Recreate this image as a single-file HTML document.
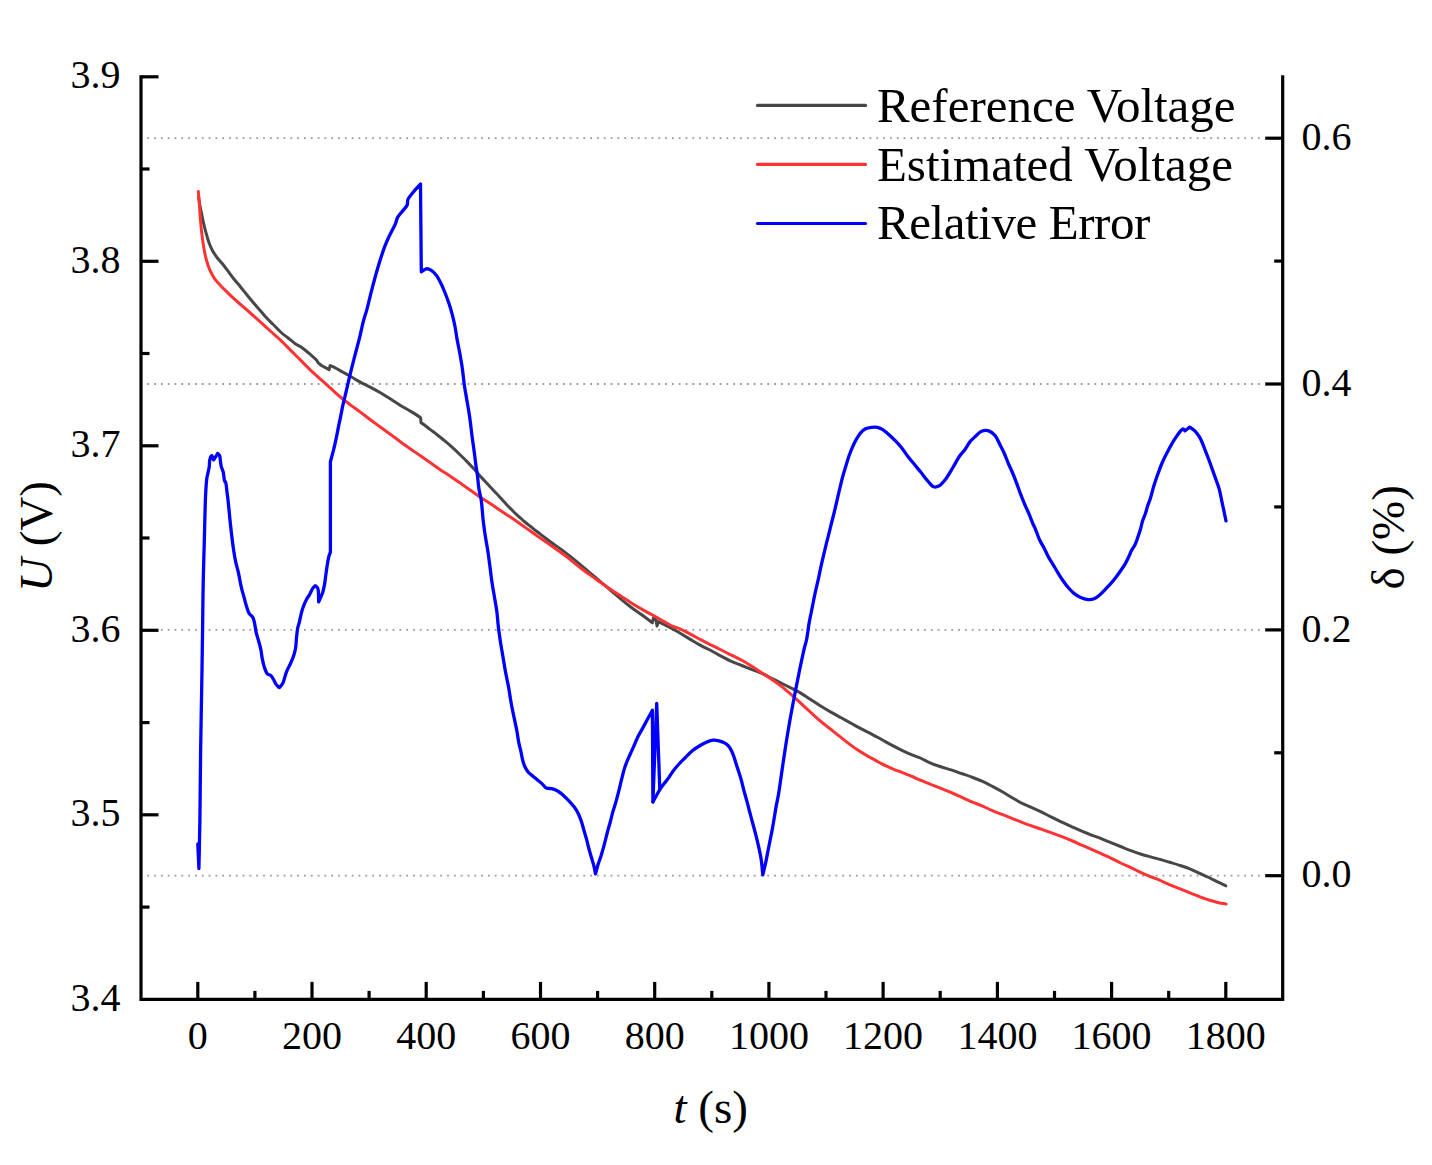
<!DOCTYPE html>
<html><head><meta charset="utf-8"><style>
html,body{margin:0;padding:0;background:#fff;}
svg{display:block;}
text{font-family:"Liberation Serif",serif;fill:#000;}
</style></head><body>
<svg width="1432" height="1165" viewBox="0 0 1432 1165">
<rect width="1432" height="1165" fill="#fff"/>
<g stroke="#9a9a9a" stroke-width="1.8" stroke-dasharray="1.8 5.0135">
<line x1="147.3" y1="875.7" x2="1264" y2="875.7"/>
<line x1="147.3" y1="629.9" x2="1264" y2="629.9"/>
<line x1="147.3" y1="384.0" x2="1264" y2="384.0"/>
<line x1="147.3" y1="138.2" x2="1264" y2="138.2"/>
</g>
<g fill="none" stroke-linejoin="round" stroke-linecap="round" stroke-width="3">
<path stroke="#474747" stroke-width="3.0" d="M198.60,197.00 C199.00,199.67 199.33,202.37 199.80,205.00 C200.26,207.57 200.84,209.90 201.40,212.60 C202.04,215.68 202.65,219.21 203.40,222.50 C204.15,225.81 205.00,229.11 205.90,232.40 C206.80,235.71 207.67,239.22 208.80,242.30 C209.83,245.12 210.96,247.70 212.30,250.20 C213.60,252.63 215.04,254.86 216.70,257.10 C218.45,259.46 220.66,261.59 222.60,264.00 C224.63,266.52 226.61,269.26 228.60,271.90 C230.58,274.53 232.49,277.29 234.50,279.80 C236.43,282.21 238.38,284.26 240.40,286.70 C242.61,289.37 244.97,292.46 247.20,295.20 C249.30,297.79 251.24,300.16 253.40,302.70 C255.69,305.39 258.41,308.35 260.60,310.90 C262.49,313.10 263.88,315.00 265.80,317.10 C267.96,319.46 270.52,321.82 273.00,324.30 C275.64,326.94 278.49,330.08 281.20,332.50 C283.62,334.65 286.00,336.30 288.40,338.20 C290.80,340.10 293.23,342.29 295.60,343.90 C297.69,345.32 299.65,346.01 301.80,347.50 C304.41,349.31 307.48,352.04 310.00,354.20 C312.24,356.12 314.74,358.13 316.20,359.80 C317.17,360.92 317.60,361.87 318.30,362.90 C319.67,363.93 320.82,364.99 322.40,366.00 C324.32,367.23 326.87,368.40 329.10,369.60 C329.43,368.23 329.77,366.87 330.10,365.50 C331.67,366.20 333.04,366.72 334.80,367.60 C337.18,368.80 340.27,370.67 343.00,372.20 C345.73,373.73 348.40,375.20 351.20,376.80 C354.16,378.49 357.15,380.39 360.30,382.10 C363.60,383.89 367.18,385.49 370.60,387.30 C374.05,389.13 377.47,390.99 380.90,393.00 C384.41,395.06 388.00,397.34 391.40,399.50 C394.66,401.57 397.64,403.70 400.90,405.70 C404.24,407.74 407.97,409.64 411.20,411.60 C414.17,413.40 418.13,415.88 419.60,417.00 C420.17,417.43 420.33,417.67 420.70,418.00 C420.80,419.57 420.90,421.13 421.00,422.70 C422.03,423.37 422.93,423.86 424.10,424.70 C425.78,425.91 427.93,427.80 430.00,429.40 C432.24,431.13 434.56,432.73 437.10,434.70 C440.12,437.05 443.96,440.10 446.90,442.60 C449.40,444.73 451.44,446.61 453.70,448.70 C456.01,450.84 458.31,453.07 460.60,455.30 C462.91,457.54 465.23,459.78 467.50,462.10 C469.80,464.45 472.03,466.79 474.30,469.30 C476.69,471.94 478.72,474.52 481.50,477.60 C485.12,481.61 491.16,487.89 494.30,491.20 C496.11,493.11 497.18,494.16 498.60,495.70 C500.05,497.26 501.46,498.91 502.90,500.50 C504.33,502.08 505.75,503.68 507.20,505.20 C508.62,506.68 510.07,508.07 511.50,509.50 C512.93,510.93 514.36,512.43 515.80,513.80 C517.19,515.12 518.59,516.32 520.00,517.60 C521.43,518.89 522.85,520.27 524.30,521.50 C525.71,522.70 527.17,523.77 528.60,524.90 C530.03,526.03 531.47,527.15 532.90,528.30 C534.34,529.45 535.59,530.53 537.20,531.80 C539.20,533.38 541.70,535.24 544.00,537.00 C546.37,538.81 548.56,540.58 551.20,542.50 C554.30,544.75 558.26,547.23 561.50,549.60 C564.50,551.80 567.05,553.85 570.00,556.20 C573.28,558.81 576.88,561.76 580.30,564.60 C583.75,567.46 587.17,570.39 590.60,573.30 C594.04,576.22 597.46,579.18 600.90,582.10 C604.33,585.01 607.77,587.89 611.20,590.80 C614.64,593.72 618.04,596.75 621.50,599.60 C624.91,602.41 628.33,605.21 631.80,607.80 C635.19,610.33 638.69,612.52 642.10,615.00 C645.56,617.52 648.97,620.20 652.40,622.80 C652.73,621.23 653.07,619.67 653.40,618.10 C654.27,618.63 655.13,619.17 656.00,619.70 C656.33,621.77 656.67,623.83 657.00,625.90 C657.53,624.50 658.07,623.10 658.60,621.70 C661.70,623.27 664.73,624.74 667.90,626.40 C671.26,628.16 674.66,629.95 678.20,632.00 C682.10,634.25 686.42,637.08 690.30,639.40 C693.86,641.52 697.13,643.54 700.60,645.40 C704.00,647.23 707.49,648.71 710.90,650.50 C714.35,652.31 717.75,654.37 721.20,656.20 C724.62,658.01 728.03,659.84 731.50,661.40 C734.90,662.93 738.37,664.13 741.80,665.50 C745.23,666.87 748.67,668.23 752.10,669.60 C755.53,670.97 759.00,672.17 762.40,673.70 C765.87,675.26 769.26,677.18 772.70,678.90 C776.13,680.61 779.57,682.29 783.00,684.00 C786.44,685.72 790.24,687.65 793.30,689.20 C795.77,690.45 797.57,691.20 800.00,692.60 C803.11,694.39 806.87,697.07 810.30,699.30 C813.73,701.53 817.14,703.85 820.60,706.00 C824.01,708.12 827.45,710.13 830.90,712.10 C834.32,714.06 837.77,715.90 841.20,717.80 C844.63,719.70 848.06,721.61 851.50,723.50 C854.93,725.38 858.35,727.29 861.80,729.10 C865.22,730.89 868.68,732.49 872.10,734.30 C875.55,736.13 878.96,738.11 882.40,740.00 C885.83,741.88 889.25,743.79 892.70,745.60 C896.12,747.39 899.55,749.16 903.00,750.80 C906.41,752.42 910.18,754.12 913.30,755.40 C915.84,756.44 917.78,756.90 920.30,758.00 C923.44,759.37 927.12,761.72 930.60,763.20 C933.99,764.64 937.45,765.68 940.90,766.80 C944.32,767.91 947.78,768.79 951.20,769.90 C954.65,771.02 958.07,772.30 961.50,773.50 C964.93,774.70 968.38,775.82 971.80,777.10 C975.25,778.39 978.70,779.67 982.10,781.20 C985.57,782.76 988.98,784.61 992.40,786.40 C995.85,788.21 999.29,790.05 1002.70,792.00 C1006.16,793.98 1009.55,796.21 1013.00,798.20 C1016.42,800.17 1020.17,802.38 1023.30,803.90 C1025.79,805.11 1027.68,805.69 1030.20,806.80 C1033.32,808.18 1037.16,809.94 1040.60,811.60 C1044.06,813.27 1047.46,815.08 1050.90,816.80 C1054.33,818.51 1057.75,820.26 1061.20,821.90 C1064.62,823.53 1068.06,825.05 1071.50,826.60 C1074.93,828.15 1078.35,829.74 1081.80,831.20 C1085.22,832.64 1088.89,834.07 1092.10,835.30 C1094.90,836.37 1097.20,837.12 1100.00,838.20 C1103.22,839.45 1106.86,841.02 1110.30,842.40 C1113.73,843.78 1117.17,845.13 1120.60,846.50 C1124.03,847.87 1127.45,849.31 1130.90,850.60 C1134.32,851.88 1137.75,853.11 1141.20,854.20 C1144.62,855.28 1148.23,856.20 1151.50,857.10 C1154.47,857.92 1157.07,858.57 1160.00,859.40 C1163.16,860.29 1166.54,861.32 1169.80,862.30 C1173.07,863.28 1176.35,864.23 1179.60,865.30 C1182.85,866.37 1186.09,867.42 1189.30,868.70 C1192.59,870.01 1195.83,871.63 1199.10,873.10 C1202.37,874.57 1205.65,875.96 1208.90,877.50 C1212.18,879.06 1215.69,880.93 1218.70,882.40 C1221.25,883.65 1223.43,884.67 1225.80,885.80"/>
<path stroke="#ff3333" stroke-width="3.0" d="M198.30,191.40 C198.67,195.83 199.06,200.14 199.40,204.70 C199.76,209.52 199.98,214.65 200.40,219.60 C200.82,224.55 201.30,229.56 201.90,234.40 C202.48,239.09 203.11,243.79 203.90,248.20 C204.63,252.30 205.37,256.27 206.40,260.00 C207.36,263.48 208.40,266.75 209.80,269.90 C211.18,273.01 212.82,276.11 214.70,278.80 C216.48,281.35 218.59,283.44 220.70,285.70 C222.88,288.04 225.29,290.34 227.60,292.60 C229.89,294.84 232.31,297.20 234.50,299.20 C236.42,300.95 237.88,302.15 240.00,304.00 C242.90,306.53 246.87,309.97 250.30,313.00 C253.74,316.04 257.17,319.12 260.60,322.20 C264.04,325.29 267.47,328.40 270.90,331.50 C274.33,334.60 277.81,337.58 281.20,340.80 C284.68,344.10 288.07,347.67 291.50,351.10 C294.93,354.53 298.37,357.97 301.80,361.40 C305.23,364.83 308.62,368.41 312.10,371.70 C315.49,374.90 318.97,377.82 322.40,380.90 C325.84,383.99 329.25,387.14 332.70,390.20 C336.12,393.24 339.86,396.62 343.00,399.20 C345.52,401.27 347.43,402.67 350.00,404.60 C353.09,406.91 356.93,409.59 360.30,412.10 C363.60,414.56 366.70,417.04 370.00,419.50 C373.37,422.01 376.87,424.50 380.30,427.00 C383.73,429.50 387.17,431.97 390.60,434.50 C394.04,437.04 397.45,439.70 400.90,442.20 C404.31,444.67 407.77,447.00 411.20,449.40 C414.63,451.80 418.23,454.32 421.50,456.60 C424.47,458.67 427.03,460.43 430.00,462.50 C433.27,464.78 436.85,467.37 440.30,469.70 C443.71,472.00 447.19,474.10 450.60,476.40 C454.05,478.73 457.47,481.20 460.90,483.60 C464.33,486.00 467.77,488.40 471.20,490.80 C474.63,493.20 478.12,495.76 481.50,498.00 C484.68,500.11 487.72,501.79 490.90,503.90 C494.28,506.14 497.75,508.77 501.20,511.10 C504.61,513.40 508.09,515.50 511.50,517.80 C514.95,520.13 518.37,522.59 521.80,525.00 C525.24,527.42 528.66,529.88 532.10,532.30 C535.53,534.71 538.97,537.09 542.40,539.50 C545.84,541.92 549.26,544.38 552.70,546.80 C556.13,549.21 559.92,551.74 563.00,554.00 C565.58,555.90 567.45,557.39 570.00,559.40 C573.11,561.86 576.84,565.02 580.30,567.70 C583.71,570.35 587.15,572.90 590.60,575.40 C594.01,577.87 597.47,580.20 600.90,582.60 C604.33,585.00 607.75,587.47 611.20,589.80 C614.61,592.10 618.07,594.27 621.50,596.50 C624.93,598.73 628.35,601.04 631.80,603.20 C635.21,605.34 638.64,607.42 642.10,609.40 C645.51,611.35 648.97,613.12 652.40,615.00 C655.84,616.89 659.27,618.80 662.70,620.70 C666.13,622.60 669.84,625.00 673.00,626.40 C675.51,627.51 677.48,627.73 680.00,628.80 C683.15,630.14 686.88,632.29 690.30,634.10 C693.74,635.92 697.15,637.89 700.60,639.70 C704.02,641.49 707.46,643.18 710.90,644.90 C714.33,646.61 717.77,648.29 721.20,650.00 C724.64,651.72 728.06,653.48 731.50,655.20 C734.93,656.91 738.40,658.44 741.80,660.30 C745.27,662.20 748.69,664.36 752.10,666.50 C755.55,668.66 758.97,670.97 762.40,673.20 C765.83,675.43 769.30,677.53 772.70,679.90 C776.17,682.32 779.53,684.82 783.00,687.60 C786.73,690.59 790.91,694.31 794.30,697.30 C797.13,699.80 799.39,701.90 802.00,704.30 C804.72,706.80 807.63,709.54 810.30,712.00 C812.78,714.29 815.05,716.46 817.50,718.60 C819.95,720.73 822.40,722.70 825.00,724.80 C827.76,727.03 830.73,729.33 833.60,731.60 C836.47,733.87 839.33,736.15 842.20,738.40 C845.06,740.65 847.92,742.96 850.80,745.10 C853.62,747.19 856.42,749.23 859.30,751.10 C862.12,752.93 865.16,754.63 867.90,756.20 C870.37,757.61 872.61,758.78 875.00,760.10 C877.44,761.45 879.70,762.85 882.40,764.20 C885.52,765.76 889.25,767.34 892.70,768.80 C896.12,770.24 899.57,771.53 903.00,772.90 C906.43,774.27 910.21,775.68 913.30,777.00 C915.87,778.10 917.73,779.10 920.30,780.20 C923.39,781.52 927.17,782.93 930.60,784.30 C934.03,785.67 937.47,787.03 940.90,788.40 C944.33,789.77 947.78,791.04 951.20,792.50 C954.65,793.97 958.06,795.65 961.50,797.20 C964.93,798.75 968.35,800.34 971.80,801.80 C975.22,803.24 978.68,804.44 982.10,805.90 C985.55,807.37 988.95,809.13 992.40,810.60 C995.82,812.06 999.27,813.33 1002.70,814.70 C1006.13,816.07 1009.56,817.45 1013.00,818.80 C1016.43,820.15 1020.19,821.62 1023.30,822.80 C1025.85,823.77 1027.74,824.48 1030.30,825.40 C1033.40,826.52 1037.17,827.80 1040.60,829.00 C1044.03,830.20 1047.47,831.37 1050.90,832.60 C1054.34,833.84 1057.77,835.09 1061.20,836.40 C1064.64,837.72 1068.08,839.06 1071.50,840.50 C1074.95,841.96 1078.37,843.57 1081.80,845.10 C1085.23,846.63 1088.89,848.27 1092.10,849.70 C1094.91,850.95 1097.19,851.95 1100.00,853.20 C1103.21,854.63 1106.89,856.18 1110.30,857.80 C1113.75,859.44 1117.15,861.36 1120.60,863.00 C1124.01,864.62 1127.48,865.99 1130.90,867.60 C1134.35,869.22 1137.74,871.12 1141.20,872.70 C1144.61,874.25 1148.23,875.66 1151.50,877.00 C1154.46,878.21 1157.08,879.16 1160.00,880.40 C1163.16,881.74 1166.52,883.41 1169.80,884.80 C1173.05,886.18 1176.34,887.40 1179.60,888.70 C1182.84,890.00 1186.06,891.30 1189.30,892.60 C1192.56,893.90 1195.82,895.26 1199.10,896.50 C1202.36,897.73 1205.61,898.96 1208.90,900.00 C1212.15,901.03 1215.66,902.03 1218.70,902.70 C1221.30,903.27 1223.57,903.50 1226.00,903.90"/>
<path stroke="#0000ff" stroke-width="3.3" d="M197.80,844.00 C198.17,852.17 198.53,860.33 198.90,868.50 C199.23,852.33 199.63,837.51 199.90,820.00 C200.22,799.31 200.28,775.97 200.60,752.30 C200.96,726.20 201.63,694.03 202.00,670.00 C202.29,651.27 202.49,635.47 202.70,620.00 C202.88,606.60 202.94,595.30 203.20,582.50 C203.47,569.06 203.95,554.79 204.30,541.20 C204.65,527.96 204.98,510.97 205.30,502.00 C205.47,497.31 205.57,495.02 205.80,491.30 C206.05,487.22 206.30,481.99 206.80,478.50 C207.15,476.05 207.68,474.28 208.10,472.30 C208.48,470.49 208.94,468.95 209.20,467.10 C209.50,465.02 209.33,462.34 209.70,460.40 C210.00,458.85 210.42,456.98 211.00,456.30 C211.30,455.95 211.67,455.97 212.00,455.80 C212.50,457.17 213.00,458.53 213.50,459.90 C214.20,458.87 214.91,457.85 215.60,456.80 C216.31,455.72 217.00,454.60 217.70,453.50 C218.30,454.10 219.05,454.41 219.50,455.30 C220.23,456.76 220.17,459.98 220.50,462.00 C220.77,463.68 220.88,465.00 221.30,466.60 C221.77,468.42 222.77,470.17 223.30,472.30 C223.94,474.87 223.90,479.52 224.60,481.00 C224.89,481.61 225.31,481.49 225.60,482.10 C226.32,483.63 226.50,488.27 226.90,491.30 C227.29,494.24 227.58,496.33 228.00,500.00 C228.72,506.32 229.70,517.69 230.60,525.80 C231.41,533.06 232.18,540.03 233.10,546.40 C233.90,551.94 234.73,557.28 235.70,561.90 C236.50,565.70 237.44,568.41 238.30,572.20 C239.34,576.81 240.28,582.87 241.40,587.60 C242.37,591.70 243.67,595.92 244.50,599.00 C245.06,601.10 245.27,602.30 245.90,604.30 C246.74,607.00 247.88,611.43 249.30,613.70 C250.29,615.29 251.86,615.81 252.70,617.20 C253.59,618.66 253.89,620.28 254.40,622.30 C255.11,625.11 255.44,629.34 256.20,632.60 C256.90,635.62 257.92,638.33 258.70,641.20 C259.48,644.06 260.32,646.92 260.90,649.80 C261.48,652.65 261.64,655.55 262.20,658.40 C262.77,661.28 263.40,664.34 264.30,667.00 C265.13,669.44 265.94,672.39 267.30,673.80 C268.28,674.82 269.82,674.67 270.80,675.50 C271.83,676.37 272.50,677.69 273.30,679.00 C274.22,680.51 274.85,682.63 275.90,684.10 C276.87,685.46 278.17,686.43 279.30,687.60 C280.47,686.17 281.85,685.05 282.80,683.30 C283.95,681.17 284.52,677.82 285.30,675.50 C285.93,673.61 286.34,672.20 287.10,670.40 C288.01,668.25 289.41,665.95 290.50,663.50 C291.69,660.81 293.02,657.63 293.90,654.90 C294.66,652.53 295.18,650.62 295.60,648.10 C296.11,645.04 296.13,641.23 296.50,637.80 C296.87,634.36 297.23,630.18 297.80,627.50 C298.17,625.74 298.67,624.85 299.10,623.20 C299.67,621.01 300.20,617.98 300.80,615.50 C301.37,613.16 301.76,611.13 302.60,608.70 C303.62,605.74 305.37,601.60 306.70,599.10 C307.62,597.37 308.48,596.49 309.40,594.90 C310.54,592.93 311.71,589.73 312.90,588.10 C313.69,587.02 314.50,586.50 315.30,585.70 C316.10,586.50 317.11,586.81 317.70,588.10 C318.89,590.69 318.37,597.23 318.70,601.80 C319.97,598.83 321.52,595.86 322.50,592.90 C323.42,590.12 323.95,587.53 324.50,584.60 C325.11,581.37 325.37,577.98 325.90,574.30 C326.51,570.06 327.31,564.13 328.00,560.60 C328.44,558.34 328.82,556.60 329.30,555.10 C329.64,554.03 330.03,553.30 330.40,552.40 C330.40,522.20 330.40,492.00 330.40,461.80 C331.43,457.93 332.51,454.25 333.50,450.20 C334.58,445.79 335.67,440.73 336.60,436.30 C337.45,432.26 338.12,428.56 338.90,424.70 C339.68,420.86 340.61,416.66 341.30,413.20 C341.87,410.35 342.23,407.98 342.80,405.40 C343.37,402.82 343.94,400.86 344.70,397.70 C345.91,392.63 347.70,384.56 349.30,377.90 C350.93,371.10 352.66,364.07 354.40,357.30 C356.10,350.68 358.06,343.94 359.60,337.70 C360.99,332.06 362.01,326.41 363.30,321.50 C364.39,317.35 365.52,314.41 366.70,310.10 C368.22,304.54 369.87,297.18 371.50,290.90 C373.07,284.82 374.72,278.56 376.30,273.00 C377.68,268.12 378.98,263.74 380.40,259.30 C381.75,255.05 383.21,250.59 384.60,246.90 C385.74,243.86 386.82,241.30 388.00,238.70 C389.10,236.28 390.21,234.20 391.40,231.80 C392.70,229.18 394.43,226.18 395.50,223.60 C396.41,221.42 396.54,219.38 397.60,217.40 C398.76,215.23 400.80,213.27 402.40,211.20 C404.00,209.13 406.32,207.13 407.20,205.00 C407.94,203.21 407.15,201.38 407.90,199.50 C408.87,197.07 411.39,194.49 413.40,192.00 C415.56,189.33 418.13,186.67 420.50,184.00 C420.77,213.27 421.03,242.53 421.30,271.80 C422.93,270.80 424.50,269.03 426.20,268.80 C427.84,268.58 429.70,269.35 431.30,270.30 C433.18,271.41 434.98,273.51 436.50,275.50 C438.11,277.61 439.30,280.11 440.60,282.70 C442.04,285.57 443.37,288.73 444.70,292.00 C446.15,295.56 447.66,299.60 448.90,303.30 C450.07,306.79 451.02,309.92 452.00,313.60 C453.11,317.76 454.24,322.61 455.10,327.00 C455.92,331.20 456.35,335.19 457.10,339.40 C457.88,343.79 458.86,348.17 459.70,352.80 C460.60,357.75 461.53,362.91 462.30,368.20 C463.11,373.79 463.59,379.91 464.40,385.50 C465.17,390.79 466.13,395.76 467.00,400.90 C467.87,406.06 468.81,410.99 469.60,416.40 C470.46,422.31 471.21,429.71 471.90,435.00 C472.41,438.94 472.83,441.87 473.30,445.30 C473.77,448.73 474.25,452.17 474.70,455.60 C475.15,459.03 475.53,462.58 476.00,465.90 C476.44,469.03 476.96,471.65 477.40,475.00 C477.94,479.12 478.22,484.46 478.90,488.80 C479.52,492.74 480.55,495.68 481.20,500.00 C482.08,505.81 482.46,514.23 483.20,520.60 C483.84,526.14 484.52,530.95 485.30,536.10 C486.08,541.25 487.12,546.35 487.90,551.50 C488.68,556.65 489.32,561.83 490.00,567.00 C490.68,572.17 491.23,577.35 492.00,582.50 C492.77,587.65 493.77,592.88 494.60,597.90 C495.40,602.70 496.30,607.34 496.90,612.00 C497.49,616.54 497.66,620.86 498.20,625.50 C498.78,630.47 499.52,635.76 500.30,640.90 C501.09,646.06 502.03,651.23 502.90,656.40 C503.77,661.57 504.55,666.75 505.50,671.90 C506.45,677.05 507.67,682.15 508.60,687.30 C509.53,692.45 510.17,697.65 511.10,702.80 C512.03,707.95 513.18,713.25 514.20,718.20 C515.15,722.82 516.20,727.29 517.00,731.60 C517.74,735.60 518.19,739.74 518.90,743.20 C519.48,746.04 520.19,748.21 520.80,750.90 C521.46,753.85 521.97,757.44 522.70,760.20 C523.30,762.47 523.78,764.31 524.70,766.30 C525.68,768.42 527.00,770.77 528.50,772.50 C529.87,774.08 531.64,775.11 533.20,776.40 C534.74,777.68 536.27,778.92 537.80,780.20 C539.34,781.49 540.96,782.77 542.40,784.10 C543.78,785.37 544.74,787.23 546.30,788.00 C547.85,788.76 549.99,788.30 551.70,788.70 C553.32,789.08 554.80,789.56 556.30,790.30 C557.91,791.10 559.54,792.27 561.00,793.40 C562.43,794.51 563.69,795.77 565.00,797.00 C566.32,798.24 567.53,799.35 568.90,800.80 C570.59,802.59 572.73,804.87 574.30,807.00 C575.77,809.01 576.98,810.97 578.10,813.20 C579.30,815.58 580.26,818.19 581.20,820.90 C582.21,823.83 583.00,827.11 583.90,830.20 C584.80,833.28 585.77,836.32 586.60,839.40 C587.43,842.48 588.07,845.61 588.90,848.70 C589.74,851.81 590.73,854.98 591.60,858.00 C592.43,860.87 593.34,863.68 594.00,866.40 C594.62,868.93 595.00,871.33 595.50,873.80 C596.40,870.57 597.22,867.28 598.20,864.10 C599.16,860.98 600.30,858.10 601.30,854.90 C602.37,851.46 603.40,847.83 604.40,844.10 C605.47,840.12 606.49,835.46 607.50,831.70 C608.35,828.54 609.16,826.10 610.00,823.00 C610.96,819.46 611.87,815.26 612.90,811.60 C613.87,808.14 615.01,805.05 616.00,801.60 C617.05,797.94 618.04,794.03 619.00,790.20 C619.97,786.33 620.81,782.38 621.80,778.50 C622.78,774.64 623.73,770.52 624.90,767.00 C625.93,763.89 627.12,761.17 628.30,758.40 C629.43,755.75 630.65,753.27 631.80,750.70 C632.95,748.14 634.15,745.42 635.20,743.00 C636.13,740.85 636.81,738.90 637.80,736.90 C638.81,734.86 639.92,733.21 641.20,730.90 C642.93,727.77 645.27,723.35 647.20,719.80 C648.99,716.51 650.67,713.47 652.40,710.30 C652.57,740.83 652.73,771.37 652.90,801.90 C654.17,769.07 655.43,736.23 656.70,703.40 C657.73,732.10 658.77,760.80 659.80,789.50 C661.20,787.60 662.59,785.67 664.00,783.80 C665.39,781.97 666.79,780.36 668.20,778.40 C669.79,776.20 671.24,773.55 673.00,771.20 C674.83,768.75 676.95,766.25 679.00,764.00 C680.95,761.86 682.90,760.09 685.00,758.00 C687.31,755.71 689.65,752.96 692.30,750.80 C694.98,748.62 698.32,746.55 701.00,745.00 C703.14,743.76 704.96,742.81 707.00,742.00 C708.97,741.22 710.98,740.39 713.00,740.20 C714.98,740.01 717.03,740.32 719.00,740.80 C721.04,741.30 723.32,742.20 725.00,743.20 C726.43,744.05 727.54,744.98 728.60,746.20 C729.77,747.54 730.72,749.27 731.60,751.00 C732.54,752.85 733.24,754.85 734.00,757.00 C734.85,759.41 735.58,762.26 736.40,764.80 C737.19,767.25 738.01,769.55 738.80,772.00 C739.62,774.54 740.44,777.08 741.20,779.80 C742.02,782.73 742.63,785.70 743.50,789.00 C744.52,792.88 745.90,797.48 747.00,801.60 C748.06,805.54 748.98,809.34 750.00,813.20 C751.02,817.04 752.07,820.86 753.10,824.70 C754.14,828.56 755.23,832.43 756.20,836.30 C757.16,840.16 758.07,844.03 758.90,847.90 C759.73,851.76 760.57,855.34 761.20,859.50 C761.92,864.25 762.27,869.77 762.80,874.90 C763.70,871.07 764.67,867.25 765.50,863.40 C766.33,859.55 767.03,855.67 767.80,851.80 C768.57,847.93 769.33,844.07 770.10,840.20 C770.87,836.33 771.68,832.47 772.40,828.60 C773.12,824.74 773.75,820.87 774.40,817.00 C775.05,813.13 775.60,809.25 776.30,805.40 C777.00,801.55 777.86,798.17 778.60,793.90 C779.51,788.60 780.20,782.78 781.20,776.00 C782.51,767.08 784.21,755.06 785.80,745.00 C787.31,735.42 788.90,726.00 790.50,717.00 C792.00,708.58 793.55,700.62 795.10,692.60 C796.61,684.79 798.13,677.07 799.70,669.50 C801.23,662.15 803.09,653.21 804.40,647.80 C805.19,644.54 805.84,643.12 806.50,640.00 C807.46,635.46 808.13,628.60 809.10,623.10 C810.04,617.81 811.17,612.76 812.20,607.60 C813.23,602.46 814.23,597.15 815.30,592.20 C816.30,587.57 817.43,583.18 818.40,578.80 C819.33,574.59 820.11,570.43 821.00,566.40 C821.85,562.54 822.69,558.95 823.60,555.10 C824.55,551.06 825.68,546.42 826.60,542.70 C827.35,539.65 827.96,537.39 828.70,534.40 C829.57,530.90 830.59,526.60 831.50,523.00 C832.32,519.74 833.07,517.05 833.90,513.70 C834.87,509.78 835.90,505.18 836.90,500.90 C837.90,496.61 838.90,492.20 839.90,488.00 C840.86,483.98 841.77,479.95 842.80,476.20 C843.75,472.74 844.80,469.59 845.80,466.30 C846.80,463.02 847.66,459.75 848.80,456.50 C849.96,453.19 851.32,449.68 852.70,446.60 C853.96,443.79 855.30,441.10 856.70,438.70 C857.95,436.55 859.08,434.48 860.60,432.80 C862.04,431.21 863.67,429.72 865.50,428.80 C867.31,427.89 869.49,427.55 871.50,427.30 C873.46,427.06 875.56,426.94 877.40,427.30 C879.14,427.64 880.72,428.37 882.30,429.30 C884.03,430.32 885.59,431.84 887.30,433.30 C889.21,434.94 891.80,437.40 893.20,438.70 C893.98,439.42 894.24,439.62 895.00,440.40 C896.50,441.94 899.33,444.93 901.40,447.50 C903.64,450.27 905.70,453.64 907.90,456.50 C910.00,459.23 912.16,461.71 914.30,464.30 C916.43,466.88 918.58,469.37 920.70,472.00 C922.88,474.70 924.97,477.76 927.20,480.30 C929.28,482.66 931.38,486.04 933.60,486.80 C935.28,487.38 937.11,486.93 938.80,486.10 C941.01,485.00 943.11,482.31 945.20,479.70 C947.84,476.40 950.49,471.48 952.90,467.50 C955.17,463.76 957.10,459.68 959.30,456.50 C961.15,453.82 963.22,451.96 965.00,449.50 C966.82,446.99 968.26,443.86 970.10,441.60 C971.72,439.61 973.46,438.17 975.30,436.50 C977.24,434.74 979.19,432.23 981.50,431.30 C983.68,430.42 986.50,430.16 988.70,430.80 C990.98,431.47 993.12,433.35 994.90,435.40 C996.99,437.80 998.42,441.67 1000.00,444.70 C1001.47,447.53 1002.78,450.06 1004.10,453.00 C1005.55,456.22 1006.88,459.97 1008.30,463.30 C1009.65,466.46 1011.06,469.33 1012.40,472.50 C1013.80,475.82 1015.16,479.27 1016.50,482.80 C1017.90,486.49 1019.20,490.52 1020.60,494.20 C1021.94,497.71 1023.29,501.09 1024.70,504.40 C1026.06,507.59 1027.54,510.51 1028.90,513.70 C1030.31,517.03 1031.76,521.15 1033.00,524.00 C1033.90,526.07 1034.62,527.24 1035.50,529.30 C1036.69,532.09 1037.86,536.15 1039.30,539.30 C1040.67,542.30 1042.39,544.89 1043.90,547.80 C1045.46,550.82 1046.89,554.18 1048.50,557.10 C1050.00,559.82 1051.65,562.22 1053.20,564.80 C1054.75,567.39 1056.18,569.97 1057.80,572.60 C1059.50,575.36 1061.34,578.36 1063.20,581.00 C1064.95,583.48 1066.73,585.87 1068.60,588.00 C1070.34,589.98 1072.04,591.84 1074.00,593.40 C1075.92,594.93 1077.94,596.28 1080.20,597.30 C1082.58,598.38 1085.54,599.41 1088.00,599.60 C1090.14,599.77 1092.16,599.56 1094.10,598.80 C1096.24,597.96 1098.32,596.09 1100.20,594.50 C1102.05,592.92 1103.60,591.07 1105.30,589.30 C1107.03,587.50 1108.80,585.71 1110.50,583.80 C1112.24,581.84 1113.93,579.85 1115.60,577.70 C1117.37,575.43 1119.16,572.86 1120.80,570.50 C1122.35,568.27 1123.89,566.16 1125.20,563.90 C1126.48,561.69 1127.54,559.36 1128.60,557.10 C1129.63,554.90 1130.41,552.58 1131.50,550.50 C1132.55,548.49 1133.98,546.88 1135.00,544.80 C1136.11,542.52 1136.89,539.89 1137.80,537.30 C1138.76,534.56 1139.80,531.57 1140.60,528.80 C1141.35,526.21 1141.71,523.71 1142.50,521.20 C1143.30,518.64 1144.55,516.15 1145.40,513.60 C1146.24,511.08 1146.77,508.55 1147.60,506.00 C1148.46,503.35 1149.56,500.95 1150.50,498.00 C1151.64,494.45 1152.60,490.00 1153.80,486.10 C1154.97,482.27 1156.22,478.63 1157.60,474.80 C1159.05,470.77 1160.48,466.63 1162.30,462.50 C1164.22,458.13 1166.63,453.51 1168.90,449.30 C1171.04,445.33 1173.06,441.37 1175.50,437.90 C1177.79,434.64 1181.30,429.07 1183.00,429.00 C1183.82,428.97 1184.27,430.27 1184.90,430.90 C1186.50,429.63 1188.10,428.37 1189.70,427.10 C1191.57,428.50 1193.63,429.59 1195.30,431.30 C1197.10,433.14 1198.55,435.31 1200.00,437.90 C1201.79,441.10 1203.24,445.42 1204.80,449.30 C1206.41,453.29 1207.96,457.33 1209.50,461.50 C1211.10,465.83 1212.63,470.38 1214.20,474.80 C1215.76,479.21 1217.58,483.38 1218.90,488.00 C1220.31,492.92 1221.15,498.19 1222.30,503.50 C1223.51,509.11 1224.77,515.03 1226.00,520.80"/>
<path stroke="#0000ff" stroke-width="3.3" d="M652.9,801.9 L659.8,789.5"/>
</g>
<g stroke="#000" stroke-width="3.2" fill="none">
<polyline points="141.0,75.3 141.0,999.4 1282.7,999.4 1282.7,75.3" stroke-linejoin="miter"/>
<line x1="141.0" y1="76.8" x2="158.5" y2="76.8"/>
<line x1="141.0" y1="169.0" x2="149.5" y2="169.0"/>
<line x1="141.0" y1="261.3" x2="158.5" y2="261.3"/>
<line x1="141.0" y1="353.5" x2="149.5" y2="353.5"/>
<line x1="141.0" y1="445.8" x2="158.5" y2="445.8"/>
<line x1="141.0" y1="538.0" x2="149.5" y2="538.0"/>
<line x1="141.0" y1="630.3" x2="158.5" y2="630.3"/>
<line x1="141.0" y1="722.6" x2="149.5" y2="722.6"/>
<line x1="141.0" y1="814.8" x2="158.5" y2="814.8"/>
<line x1="141.0" y1="907.1" x2="149.5" y2="907.1"/>
<line x1="1282.7" y1="875.7" x2="1265.2" y2="875.7"/>
<line x1="1282.7" y1="752.8" x2="1274.2" y2="752.8"/>
<line x1="1282.7" y1="629.9" x2="1265.2" y2="629.9"/>
<line x1="1282.7" y1="506.9" x2="1274.2" y2="506.9"/>
<line x1="1282.7" y1="384.0" x2="1265.2" y2="384.0"/>
<line x1="1282.7" y1="261.1" x2="1274.2" y2="261.1"/>
<line x1="1282.7" y1="138.2" x2="1265.2" y2="138.2"/>
<line x1="197.8" y1="999.4" x2="197.8" y2="981.9"/>
<line x1="254.9" y1="999.4" x2="254.9" y2="990.9"/>
<line x1="312.0" y1="999.4" x2="312.0" y2="981.9"/>
<line x1="369.1" y1="999.4" x2="369.1" y2="990.9"/>
<line x1="426.2" y1="999.4" x2="426.2" y2="981.9"/>
<line x1="483.4" y1="999.4" x2="483.4" y2="990.9"/>
<line x1="540.5" y1="999.4" x2="540.5" y2="981.9"/>
<line x1="597.6" y1="999.4" x2="597.6" y2="990.9"/>
<line x1="654.7" y1="999.4" x2="654.7" y2="981.9"/>
<line x1="711.8" y1="999.4" x2="711.8" y2="990.9"/>
<line x1="768.9" y1="999.4" x2="768.9" y2="981.9"/>
<line x1="826.0" y1="999.4" x2="826.0" y2="990.9"/>
<line x1="883.1" y1="999.4" x2="883.1" y2="981.9"/>
<line x1="940.2" y1="999.4" x2="940.2" y2="990.9"/>
<line x1="997.4" y1="999.4" x2="997.4" y2="981.9"/>
<line x1="1054.5" y1="999.4" x2="1054.5" y2="990.9"/>
<line x1="1111.6" y1="999.4" x2="1111.6" y2="981.9"/>
<line x1="1168.7" y1="999.4" x2="1168.7" y2="990.9"/>
<line x1="1225.8" y1="999.4" x2="1225.8" y2="981.9"/>
</g>
<g font-size="40">
<text x="120.5" y="88.4" text-anchor="end">3.9</text>
<text x="120.5" y="272.9" text-anchor="end">3.8</text>
<text x="120.5" y="457.4" text-anchor="end">3.7</text>
<text x="120.5" y="641.9" text-anchor="end">3.6</text>
<text x="120.5" y="826.4" text-anchor="end">3.5</text>
<text x="120.5" y="1010.9" text-anchor="end">3.4</text>
<text x="1301.5" y="887.3">0.0</text>
<text x="1301.5" y="641.5">0.2</text>
<text x="1301.5" y="395.6">0.4</text>
<text x="1301.5" y="149.8">0.6</text>
<text x="197.8" y="1049.2" text-anchor="middle">0</text>
<text x="312.0" y="1049.2" text-anchor="middle">200</text>
<text x="426.2" y="1049.2" text-anchor="middle">400</text>
<text x="540.5" y="1049.2" text-anchor="middle">600</text>
<text x="654.7" y="1049.2" text-anchor="middle">800</text>
<text x="768.9" y="1049.2" text-anchor="middle">1000</text>
<text x="883.1" y="1049.2" text-anchor="middle">1200</text>
<text x="997.4" y="1049.2" text-anchor="middle">1400</text>
<text x="1111.6" y="1049.2" text-anchor="middle">1600</text>
<text x="1225.8" y="1049.2" text-anchor="middle">1800</text>
</g>
<g fill="none" stroke-width="3.2" stroke-linecap="round">
<line x1="757.5" y1="105.4" x2="865.5" y2="105.4" stroke="#474747"/>
<line x1="757.5" y1="164.4" x2="865.5" y2="164.4" stroke="#ff3333"/>
<line x1="757.5" y1="223.5" x2="865.5" y2="223.5" stroke="#0000ff"/>
</g>
<g font-size="49">
<text x="876.9" y="121.6">Reference Voltage</text>
<text x="876.9" y="180.5">Estimated Voltage</text>
<text x="876.9" y="239.3" letter-spacing="-0.42">Relative Error</text>
</g>
<g font-size="47">
<text x="673.5" y="1123.2"><tspan font-style="italic">t</tspan> (s)</text>
<text transform="translate(52.4,592) rotate(-90)"><tspan font-style="italic">U</tspan> (V)</text>
<text transform="translate(1404,589.5) rotate(-90)">δ (%)</text>
</g>
</svg>
</body></html>
